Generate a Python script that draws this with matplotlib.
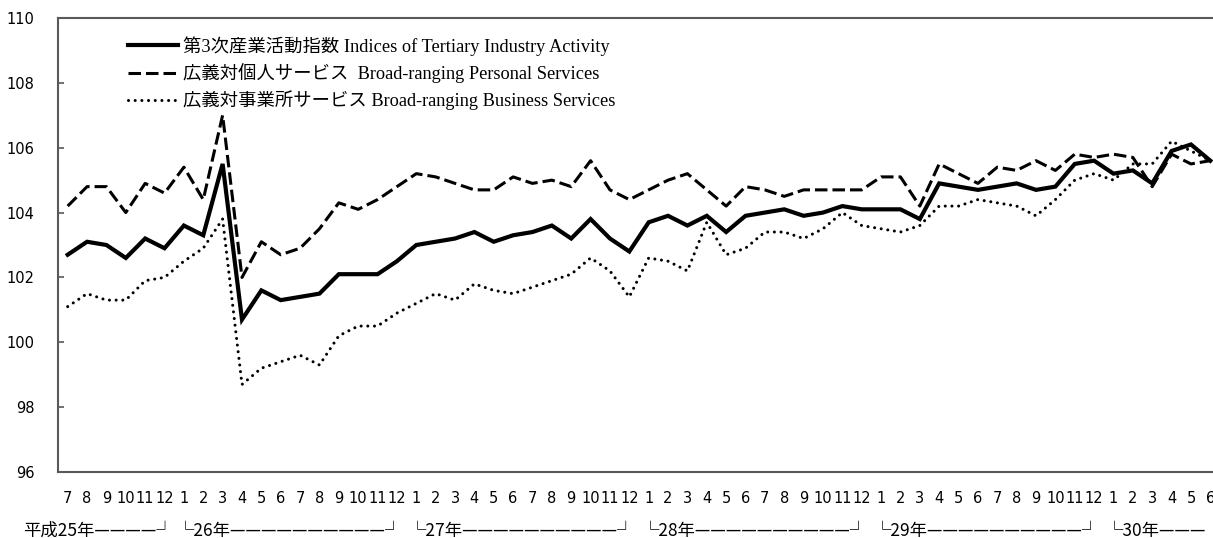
import matplotlib
matplotlib.use('Agg')
import matplotlib.pyplot as plt
import matplotlib.transforms as mtransforms

plt.rcParams['lines.scale_dashes'] = False

# months: H25/7 .. H30/6
months = [7, 8, 9, 10, 11, 12] + list(range(1, 13)) * 4 + [1, 2, 3, 4, 5, 6]

total = [102.7, 103.1, 103.0, 102.6, 103.2, 102.9,
         103.6, 103.3, 105.5, 100.7, 101.6, 101.3, 101.4, 101.5, 102.1, 102.1, 102.1, 102.5,
         103.0, 103.1, 103.2, 103.4, 103.1, 103.3, 103.4, 103.6, 103.2, 103.8, 103.2, 102.8,
         103.7, 103.9, 103.6, 103.9, 103.4, 103.9, 104.0, 104.1, 103.9, 104.0, 104.2, 104.1,
         104.1, 104.1, 103.8, 104.9, 104.8, 104.7, 104.8, 104.9, 104.7, 104.8, 105.5, 105.6,
         105.2, 105.3, 104.9, 105.9, 106.1, 105.6]

personal = [104.2, 104.8, 104.8, 104.0, 104.9, 104.6,
            105.4, 104.4, 107.0, 102.0, 103.1, 102.7, 102.9, 103.5, 104.3, 104.1, 104.4, 104.8,
            105.2, 105.1, 104.9, 104.7, 104.7, 105.1, 104.9, 105.0, 104.8, 105.6, 104.7, 104.4,
            104.7, 105.0, 105.2, 104.7, 104.2, 104.8, 104.7, 104.5, 104.7, 104.7, 104.7, 104.7,
            105.1, 105.1, 104.2, 105.5, 105.2, 104.9, 105.4, 105.3, 105.6, 105.3, 105.8, 105.7,
            105.8, 105.7, 104.8, 105.8, 105.5, 105.6]

business = [101.1, 101.5, 101.3, 101.3, 101.9, 102.0,
            102.5, 102.9, 103.8, 98.7, 99.2, 99.4, 99.6, 99.3, 100.2, 100.5, 100.5, 100.9,
            101.2, 101.5, 101.3, 101.8, 101.6, 101.5, 101.7, 101.9, 102.1, 102.6, 102.2, 101.4,
            102.6, 102.5, 102.2, 103.7, 102.7, 102.9, 103.4, 103.4, 103.2, 103.5, 104.0, 103.6,
            103.5, 103.4, 103.6, 104.2, 104.2, 104.4, 104.3, 104.2, 103.9, 104.4, 105.0, 105.2,
            105.0, 105.5, 105.5, 106.2, 105.9, 105.6]

labels = ['第3次産業活動指数 Indices of Tertiary Industry Activity',
          '広義対個人サービス  Broad-ranging Personal Services',
          '広義対事業所サービス Broad-ranging Business Services']

# year bracket labels: (text, anchor month index, alignment)
year_labels = [('平成25年' + '—' * 4 + '┘', 5.5, 'right'),
               ('└26年' + '—' * 10 + '┘', 5.62, 'left'),
               ('└27年' + '—' * 10 + '┘', 17.62, 'left'),
               ('└28年' + '—' * 10 + '┘', 29.62, 'left'),
               ('└29年' + '—' * 10 + '┘', 41.62, 'left'),
               ('└30年' + '—' * 3, 53.62, 'left')]

x = list(range(len(months)))

fig = plt.figure(figsize=(12.13, 5.38), dpi=100)
ax = fig.add_axes([58 / 1213, 1 - 472 / 538, (1220 - 58) / 1213, 454 / 538])

ax.plot(x, total, color='black', lw=3.0, solid_joinstyle='miter', label=labels[0])
ax.plot(x, personal, color='black', lw=2.2, dashes=(9, 3.6), label=labels[1])
ax.plot(x, business, color='black', lw=2.2, dashes=(0.01, 4.8),
        dash_capstyle='round', label=labels[2])

ax.set_xlim(-0.5, len(months) - 0.5)
ax.set_ylim(96, 110)
ax.set_yticks(range(96, 111, 2))
ax.set_xticks(x)
ax.set_xticklabels([str(m) for m in months])
ax.tick_params(axis='y', direction='in', length=4, width=1.2, color='#595959',
               labelsize=10.5, pad=17)
ax.tick_params(axis='x', length=0, labelsize=10.5, pad=14)

for side in ['left', 'top', 'bottom']:
    ax.spines[side].set_color('#595959')
    ax.spines[side].set_linewidth(1.5)
ax.spines['right'].set_visible(False)

trans = mtransforms.blended_transform_factory(ax.transData, ax.transAxes)
for txt, xpos, ha in year_labels:
    ax.text(xpos, -0.13, txt, transform=trans, ha=ha, va='center', fontsize=12.5,
            family=['Noto Sans CJK JP', 'DejaVu Sans'])

leg = ax.legend(loc='upper left', bbox_to_anchor=(0.06, 0.96), frameon=False,
                borderpad=0, borderaxespad=0, handlelength=2.73, handletextpad=0.27,
                labelspacing=0.39,
                prop={'family': ['Liberation Serif', 'Noto Sans CJK JP'], 'size': 13.2})

fig.savefig('out.png', dpi=100)
